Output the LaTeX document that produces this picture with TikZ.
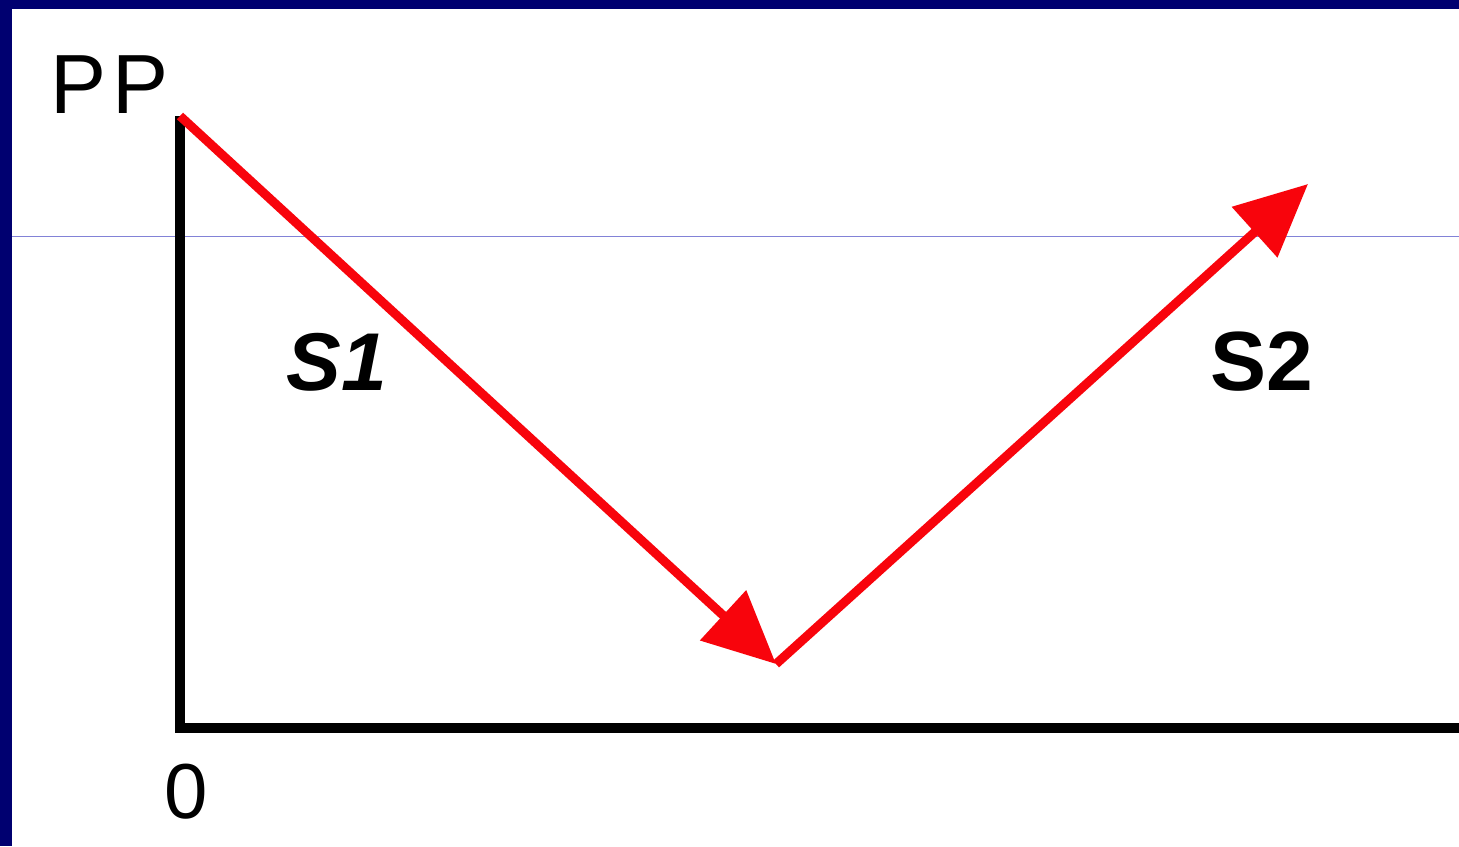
\documentclass[tikz,border=0pt]{standalone}
\usepackage{fontspec}
\setmainfont{Liberation Sans}
\usetikzlibrary{arrows.meta}
\definecolor{frameblue}{RGB}{0,0,112}
\definecolor{guideblue}{RGB}{130,130,215}
\definecolor{pathred}{RGB}{248,4,12}
\newcommand{\axLabel}[2]{\fontsize{#1}{#1}\selectfont #2}
\tikzset{
  axisline/.style={line width=5pt, black},
  pathline/.style={line width=4.5pt, pathred, -{Triangle[length=36pt, width=33pt]}},
  lbl/.style={anchor=base, inner sep=0pt}
}
\begin{document}
\begin{tikzpicture}[x=0.5pt,y=-0.5pt]
\fill[frameblue] (0,0) rectangle (1459,846);
\fill[white] (12,9) rectangle (1459,846);
\useasboundingbox (0,0) rectangle (1459,846);
\draw[guideblue, line width=0.5pt] (12,236) -- (1459,236);
\coordinate (top) at (180,116);
\coordinate (origin) at (180,728);
\coordinate (xend) at (1459,728);
\coordinate (low) at (776,664);
\coordinate (high) at (1308,184);
\draw[axisline] (top) -- (origin) -- (xend);
\draw[pathline] (top) -- (low);
\draw[pathline] (low) -- (high);
\node[lbl] (pp) at (110,113) {\axLabel{42}{P\kern3pt P}};
\node[lbl] (zero) at (186,818) {\axLabel{39}{0}};
\node[lbl] (s1) at (337,390) {\axLabel{41}{\bfseries\itshape S1}};
\node[lbl] (s2) at (1262,390) {\axLabel{42}{\bfseries S2}};
\end{tikzpicture}
\end{document}
